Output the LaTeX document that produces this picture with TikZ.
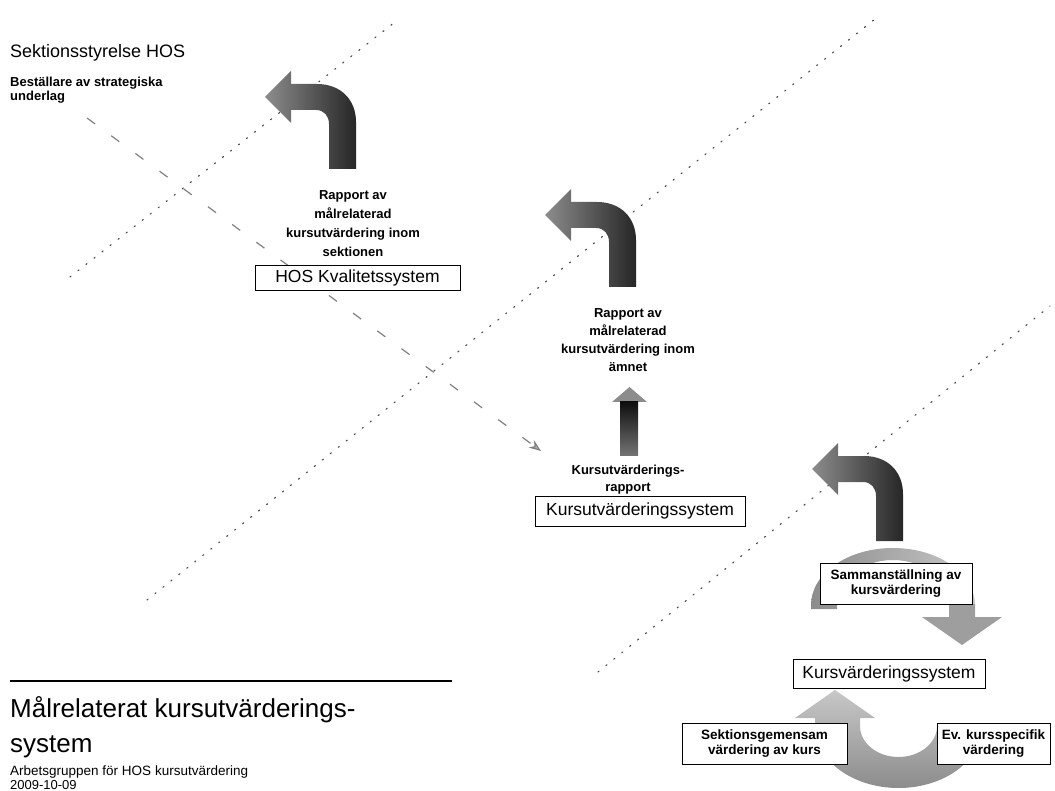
\documentclass[tikz,border=0pt]{standalone}
\usepackage{fontspec}
\setmainfont{Liberation Sans}
\usetikzlibrary{arrows.meta}
\begin{document}
\begin{tikzpicture}[x=1pt,y=-1pt,
  box/.style={draw=black, line width=0.9pt, fill=white, inner sep=0pt, align=center},
  bigtxt/.style={font=\fontsize{17.5}{20}\selectfont},
  smalltxt/.style={font=\fontsize{13.5}{15}\selectfont\bfseries},
  lbl/.style={align=center, inner sep=0pt},
  dotline/.style={draw=black!70, line width=1.2pt, dash pattern=on 1.2pt off 9pt, line cap=round},
  dashline/.style={draw=black!50, line width=1.2pt, dash pattern=on 10pt off 20pt},
  turnfill/.style={left color=black!45, right color=black!85},
  turnarrow/.pic={
    \path[turnfill] (0,0) -- (26,-26) -- (26,-13) -- (52,-13)
      .. controls (76,-13) and (91,3) .. (91,25) -- (91,72) -- (64,72) -- (64,27)
      .. controls (64,19) and (59,13) .. (51,13) -- (26,13) -- (26,26) -- cycle;
  }
]
\useasboundingbox (0,0) rectangle (1055,791);

% faint dotted diagonal lines
\draw[dotline] (70,277) -- (395,22);
\draw[dotline] (147,600) -- (875,19);
\draw[dotline] (598,672) -- (1050,306);

% dashed arrow (passes behind the boxes)
\coordinate (e1) at (87,118);
\coordinate (e2) at (541,451);
\draw[dashline, -{Stealth[length=12pt,width=9pt,fill=black!30]}] (e1) -- (e2);

% turn arrows
\pic at (265,97) {turnarrow};
\pic at (545,215) {turnarrow};
\pic at (812,469) {turnarrow};

% straight up arrow (middle)
\path[fill=black!45] (629.5,387) -- (647,402) -- (612,402) -- cycle;
\path[top color=black!95, bottom color=black!55] (638,401.5) -- (638,455) -- (620,455) -- (620,401.5) -- cycle;

% circular arrow around Sammanstallning
\path[left color=black!45, right color=black!22] (811,609) -- (811,605) arc[start angle=180, end angle=360, x radius=82, y radius=57]
  -- (975,605) -- (949,605)
  arc[start angle=360, end angle=180, x radius=56, y radius=45] -- (837,609) -- cycle;
\path[fill=black!38] (975,604) -- (975,617) -- (1002,617) -- (962,645) -- (922,617) -- (949,617) -- (949,604) -- cycle;

% U-shaped arrow at bottom
\path[top color=black!22, bottom color=black!45] (815,718) -- (815,726)
  arc[start angle=180, end angle=0, x radius=83.5, y radius=62] -- (937,726)
  arc[start angle=0, end angle=180, x radius=38.5, y radius=31] -- (860,718)
  -- (875,718) -- (835,690) -- (795,718) -- cycle;

% boxes
\node[box, bigtxt, minimum width=205pt, minimum height=25pt] (hos) at (357.5,278) {HOS Kvalitetssystem};
\node[box, bigtxt, minimum width=210pt, minimum height=30pt] (kus) at (640,511) {Kursutvärderingssystem};
\node[box, smalltxt, minimum width=152pt, minimum height=41pt] (sam) at (896,583.5) {Sammanställning av\\kursvärdering};
\node[box, bigtxt, minimum width=192pt, minimum height=29pt] (kvs) at (889,673.5) {Kursvärderingssystem};
\node[box, smalltxt, minimum width=165pt, minimum height=41pt] (sgv) at (764.5,743.5) {Sektionsgemensam\\värdering av kurs};
\node[box, smalltxt, minimum width=113pt, minimum height=41pt] (ev) at (993.5,743.5) {Ev. kursspecifik\\värdering};

% labels
\node[anchor=base west, inner sep=0pt, font=\fontsize{18}{20}\selectfont] (sek) at (10,58) {Sektionsstyrelse HOS};
\node[anchor=north west, inner sep=0pt, align=left, font=\fontsize{13}{14}\selectfont\bfseries] (best) at (10,76.7) {Beställare av strategiska\\underlag};
\node[lbl, anchor=north, font=\fontsize{13}{19}\selectfont\bfseries] (r1) at (353,190) {Rapport av\\målrelaterad\\kursutvärdering inom\\sektionen};
\node[lbl, anchor=north, font=\fontsize{13}{18}\selectfont\bfseries] (r2) at (628,308) {Rapport av\\målrelaterad\\kursutvärdering inom\\ämnet};
\node[lbl, anchor=north, font=\fontsize{13}{17}\selectfont\bfseries] (r3) at (628,465) {Kursutvärderings-\\rapport};

% footer
\coordinate (f1) at (10,681);
\coordinate (f2) at (452,681);
\draw[line width=1.2pt] (f1) -- (f2);
\node[anchor=base west, inner sep=0pt, font=\fontsize{26}{30}\selectfont] (t1) at (10,717) {Målrelaterat kursutvärderings-};
\node[anchor=base west, inner sep=0pt, font=\fontsize{26}{30}\selectfont] (t2) at (10,752) {system};
\node[anchor=base west, inner sep=0pt, font=\fontsize{13.5}{15}\selectfont] (t3) at (10,775) {Arbetsgruppen för HOS kursutvärdering};
\node[anchor=base west, inner sep=0pt, font=\fontsize{13}{15}\selectfont] (t4) at (10,789) {2009-10-09};
\end{tikzpicture}
\end{document}
